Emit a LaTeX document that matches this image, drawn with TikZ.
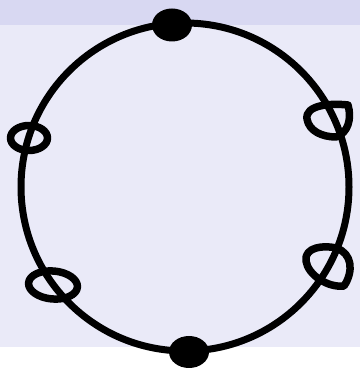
\documentclass[tikz,border=0pt]{standalone}
\definecolor{bandtop}{RGB}{216,216,242}
\definecolor{bandmain}{RGB}{234,234,248}
\tikzset{
  ring/.style={draw=black, line width=7pt},
  loopmark/.style={draw=black, line width=7.5pt, line join=round},
  blob/.style={fill=black}
}
\begin{document}
\begin{tikzpicture}[x=1pt,y=1pt]
\useasboundingbox (0,0) rectangle (360,369);
\fill[bandmain] (0,22) rectangle (360,344);
\fill[bandtop] (0,344) rectangle (360,369);
\coordinate (c) at (185,182);
\draw[ring] (c) circle[radius=164];
% loops on the ring
\draw[loopmark] (29,231) ellipse[x radius=18.5, y radius=12.5];
\draw[loopmark, rotate around={-5:(53,84)}] (53,84) ellipse[x radius=24.5, y radius=14];
\draw[loopmark] (307,250) .. controls (305,264) and (330,266) .. (348,264)
  .. controls (352,250) and (348,236) .. (336,232)
  .. controls (322,232) and (309,238) .. (307,250) -- cycle;
\draw[loopmark] (306,108) .. controls (304,122) and (324,124) .. (336,121)
  .. controls (352,116) and (354,98) .. (344,83)
  .. controls (328,81) and (308,94) .. (306,108) -- cycle;
% filled blobs
\fill[blob] (172,344) ellipse[x radius=20, y radius=16.5];
\fill[blob] (189,17) ellipse[x radius=20, y radius=16];
\end{tikzpicture}
\end{document}
